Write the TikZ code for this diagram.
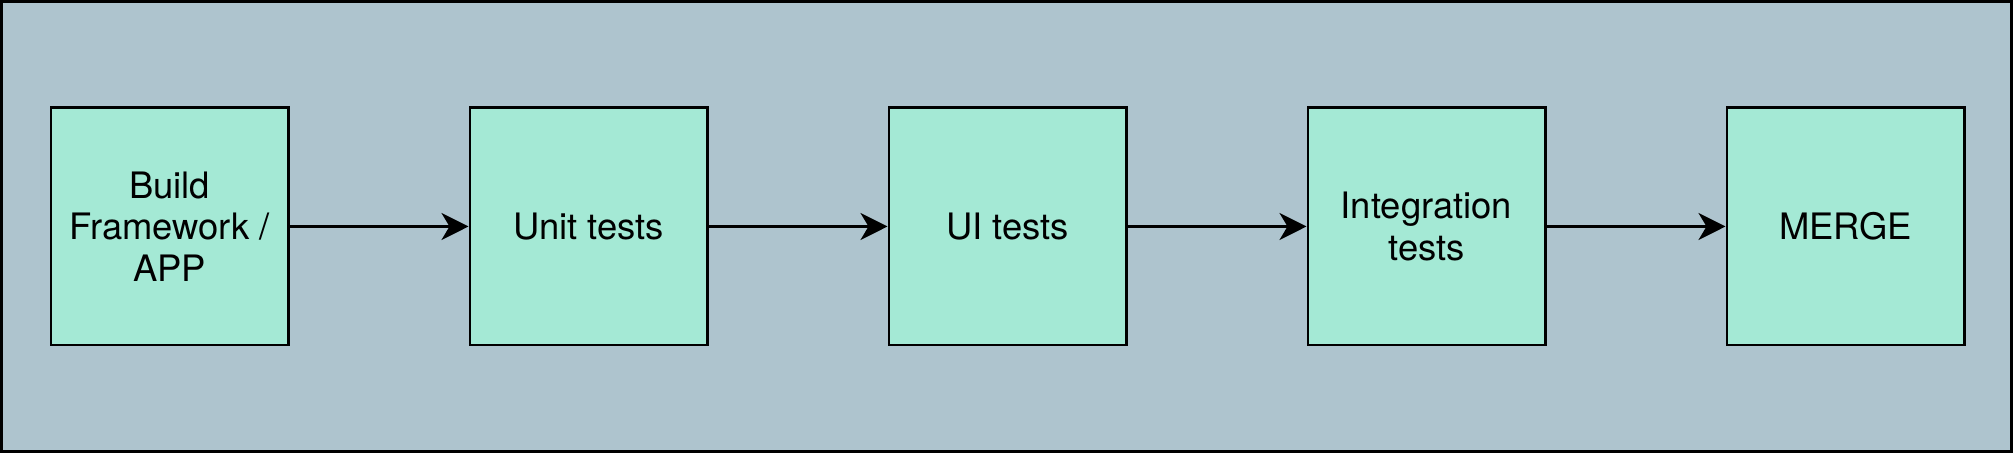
\documentclass[tikz,border=0pt]{standalone}
\usepackage{fontspec}
\setmainfont{TeX Gyre Heros}
\usetikzlibrary{arrows.meta}
\definecolor{panelbg}{RGB}{174,196,206}
\definecolor{stagefill}{RGB}{164,233,213}
\begin{document}
\begin{tikzpicture}
    \tikzstyle{arrow} = [line width = 1.3pt, -{Stealth[length = 13.5pt, width = 13.5pt, inset = 4pt]}]
    \tikzstyle{stage} = [rectangle, minimum width = 118.7pt, minimum height = 118.7pt, text centered, align = center, draw = black, line width = 1.3pt, fill = stagefill, font = \fontsize{18.2}{20.75}\selectfont]
    \useasboundingbox (0,0) rectangle (1006.5pt,226.5pt);
    \draw[line width = 1.5pt, fill = panelbg] (0.75pt,0.75pt) rectangle (1005.75pt,225.75pt);
    \node[stage](build) at (84.75pt,113.25pt){Build\\Framework /\\APP};
    \node[stage, right of = build, xshift = 6.363cm](unit){Unit tests};
    \node[stage, right of = unit, xshift = 6.363cm](ui){UI tests};
    \node[stage, right of = ui, xshift = 6.363cm](integ){Integration\\tests};
    \node[stage, right of = integ, xshift = 6.363cm](merge){MERGE};
    \draw[arrow] (build)--(unit);
    \draw[arrow] (unit)--(ui);
    \draw[arrow] (ui)--(integ);
    \draw[arrow] (integ)--(merge);
\end{tikzpicture}
\end{document}
